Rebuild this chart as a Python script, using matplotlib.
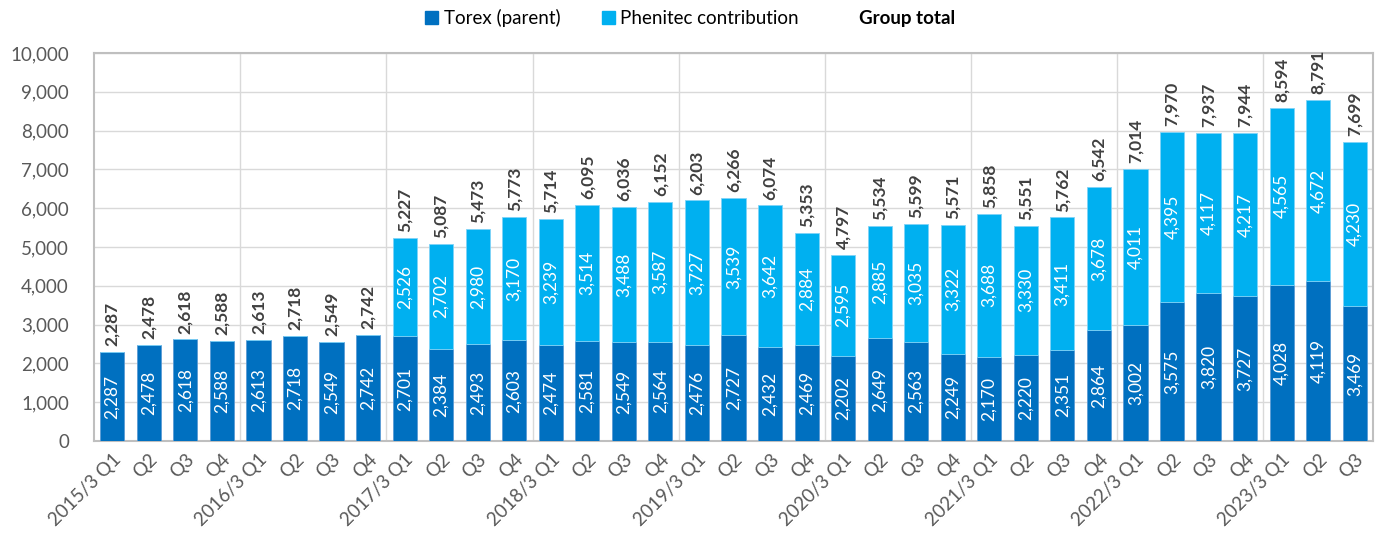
import numpy as np
import matplotlib
matplotlib.use('Agg')
import matplotlib.pyplot as plt
from matplotlib.patches import Patch
from matplotlib.lines import Line2D

plt.rcParams['font.family'] = ['Lato', 'DejaVu Sans']

# ================== data ==================
quarters = ['2015/3 Q1', 'Q2', 'Q3', 'Q4',
            '2016/3 Q1', 'Q2', 'Q3', 'Q4',
            '2017/3 Q1', 'Q2', 'Q3', 'Q4',
            '2018/3 Q1', 'Q2', 'Q3', 'Q4',
            '2019/3 Q1', 'Q2', 'Q3', 'Q4',
            '2020/3 Q1', 'Q2', 'Q3', 'Q4',
            '2021/3 Q1', 'Q2', 'Q3', 'Q4',
            '2022/3 Q1', 'Q2', 'Q3', 'Q4',
            '2023/3 Q1', 'Q2', 'Q3']

torex = [2287, 2478, 2618, 2588, 2613, 2718, 2549, 2742,
         2701, 2384, 2493, 2603, 2474, 2581, 2549, 2564,
         2476, 2727, 2432, 2469, 2202, 2649, 2563, 2249,
         2170, 2220, 2351, 2864, 3002, 3575, 3820, 3727,
         4028, 4119, 3469]

phenitec = [0, 0, 0, 0, 0, 0, 0, 0,
            2526, 2702, 2980, 3170, 3239, 3514, 3488, 3587,
            3727, 3539, 3642, 2884, 2595, 2885, 3035, 3322,
            3688, 3330, 3411, 3678, 4011, 4395, 4117, 4217,
            4565, 4672, 4230]

totals = [2287, 2478, 2618, 2588, 2613, 2718, 2549, 2742,
          5227, 5087, 5473, 5773, 5714, 6095, 6036, 6152,
          6203, 6266, 6074, 5353, 4797, 5534, 5599, 5571,
          5858, 5551, 5762, 6542, 7014, 7970, 7937, 7944,
          8594, 8791, 7699]

c_parent = '#0070C0'
c_phen = '#00B0F0'

# ================== plot ==================
fig = plt.figure(figsize=(13.8, 5.38), dpi=100)
ax = fig.add_axes([94 / 1380, 1 - 441 / 538, (1373 - 94) / 1380, (441 - 53) / 538])

x = np.arange(len(quarters))
w = 0.66
ax.bar(x, torex, w, color=c_parent, edgecolor='#5B9BD5', linewidth=0.6, zorder=3)
ax.bar(x, phenitec, w, bottom=torex, color=c_phen, edgecolor='#7FD3F7', linewidth=0.6, zorder=3)

for i in range(len(x)):
    ax.text(x[i], torex[i] / 2, f'{torex[i]:,}', rotation=90, ha='center', va='center',
            color='white', fontsize=12.5, zorder=4)
    if phenitec[i] > 0:
        ax.text(x[i], torex[i] + phenitec[i] / 2, f'{phenitec[i]:,}', rotation=90,
                ha='center', va='center', color='white', fontsize=12.5, zorder=4)
    ax.text(x[i], totals[i] + 150, f'{totals[i]:,}', rotation=90, ha='center', va='bottom',
            color='#404040', fontsize=12.5, fontweight='bold', zorder=4)

ax.set_xlim(-0.5, len(x) - 0.5)
ax.set_ylim(0, 10000)
ax.set_yticks(np.arange(0, 10001, 1000))
ax.set_yticklabels([f'{v:,}' for v in range(0, 10001, 1000)])
ax.set_xticks(x)
ax.set_xticklabels(quarters, rotation=45, ha='right', rotation_mode='anchor')
ax.tick_params(axis='both', length=0, labelsize=13.5, labelcolor='#595959')
ax.tick_params(axis='x', pad=7)
ax.tick_params(axis='y', pad=18)

ax.yaxis.grid(True, color='#D9D9D9', linewidth=1, zorder=0)
for b in np.arange(3.5, len(x) - 1, 4):
    ax.axvline(b, color='#D9D9D9', linewidth=1, zorder=0)
for s in ax.spines.values():
    s.set_color('#BFBFBF')
    s.set_linewidth(1.5)

handles = [Patch(color=c_parent), Patch(color=c_phen), Line2D([], [], color='none')]
labels = ['Torex (parent)', 'Phenitec contribution', 'Group total']
leg = fig.legend(handles, labels, loc='center', bbox_to_anchor=(0.5, 1 - 18 / 538), ncol=3,
                 frameon=False, fontsize=13.5, handlelength=0.7, handleheight=0.7,
                 handletextpad=0.3, columnspacing=2.2)
leg.get_texts()[2].set_fontweight('bold')

fig.savefig('out.png', dpi=100)
